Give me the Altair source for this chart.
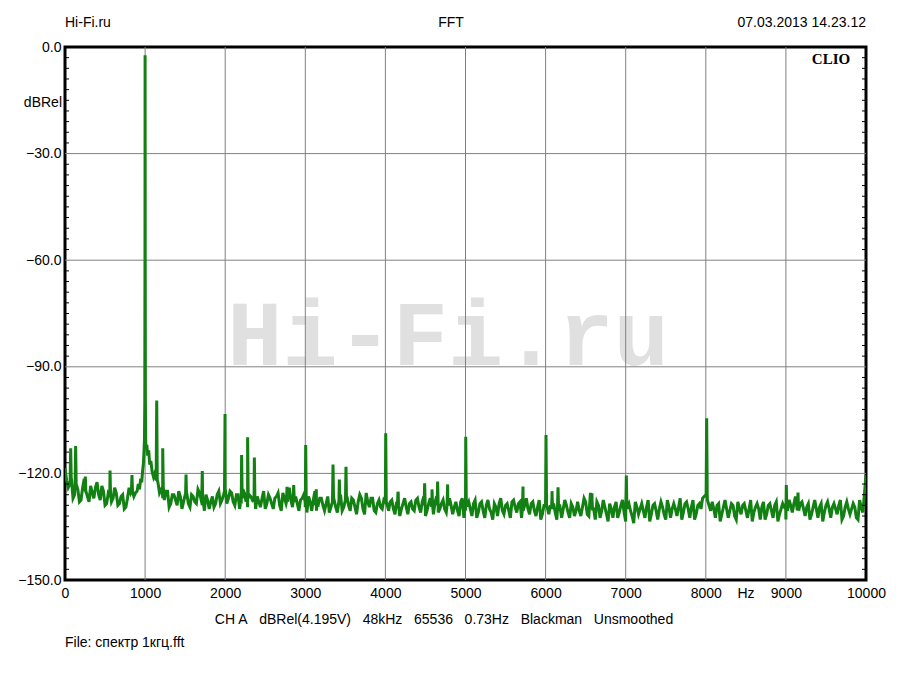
import altair as alt
import pandas as pd

# ---------------- data ----------------
# noise floor sampled every 40 Hz (0, 40, 80 ... 10000)
noise_start = 0
noise_step = 40
noise_db = [
    -118.5, -124.0, -121.5, -126.0, -124.5, -127.5, -121.5, -126.5, -123.5, -127.0,
    -122.5, -127.5, -125.0, -128.5, -125.0, -127.0, -125.5, -128.5, -126.0, -129.5,
    -124.0, -123.0, -125.5, -124.0, -121.0, -118.0, -116.0, -119.0, -122.0, -124.0,
    -124.5, -127.5, -125.0, -128.5, -126.0, -129.0, -126.5, -128.0, -125.5, -129.5,
    -126.5, -128.5, -125.5, -129.0, -126.0, -130.0, -126.5, -128.5, -125.0, -127.5,
    -124.5, -127.0, -125.5, -129.0, -126.0, -128.5, -125.5, -129.5, -126.5, -128.0,
    -126.5, -129.5, -125.0, -128.5, -127.0, -130.0, -126.5, -129.0, -125.5, -128.5,
    -124.0, -129.5, -126.5, -130.5, -127.0, -129.5, -126.5, -130.5, -125.0, -129.0,
    -127.0, -130.5, -126.5, -129.5, -127.5, -131.0, -126.0, -129.5, -126.5, -130.5,
    -127.5, -131.5, -126.0, -130.0, -125.5, -129.5, -127.0, -131.0, -127.5, -130.0,
    -126.0, -130.5, -127.5, -131.5, -125.5, -130.0, -127.0, -131.5, -128.0, -130.5,
    -127.0, -131.0, -126.5, -130.5, -127.0, -131.5, -126.5, -130.0, -127.5, -131.0,
    -127.0, -131.5, -128.0, -132.0, -127.0, -130.5, -128.0, -132.0, -127.5, -131.0,
    -128.0, -132.5, -127.5, -131.0, -128.5, -132.0, -127.0, -131.5, -128.5, -132.5,
    -127.5, -131.0, -128.0, -130.5, -127.0, -131.5, -128.0, -132.0, -127.5, -131.5,
    -127.0, -131.5, -126.5, -131.0, -128.0, -132.5, -127.5, -131.0, -128.5, -132.0,
    -128.0, -132.0, -127.0, -131.5, -125.5, -130.0, -128.0, -132.5, -127.5, -131.5,
    -128.5, -132.5, -128.0, -131.0, -127.5, -133.5, -128.5, -132.0, -128.0, -131.5,
    -128.5, -132.5, -127.5, -131.5, -128.5, -133.0, -128.0, -131.5, -127.5, -132.5,
    -128.5, -132.0, -127.0, -131.0, -128.0, -132.5, -127.5, -131.5, -128.5, -127.0,
    -126.0, -129.0, -128.0, -132.5, -128.5, -131.5, -127.5, -132.5, -128.5, -132.0,
    -128.0, -131.5, -128.5, -132.5, -127.5, -131.0, -128.5, -133.0, -128.0, -131.5,
    -128.5, -132.5, -128.0, -131.5, -128.5, -133.0, -127.5, -131.0, -126.5, -130.5,
    -128.0, -132.0, -128.5, -131.5, -127.5, -132.5, -128.5, -131.0, -128.0, -132.5,
    -128.5, -131.5, -127.5, -132.0, -128.0, -131.5, -128.5, -132.5, -127.5, -131.0,
    -120.5,
]
# noise floor in between, at 20, 60, 100 ... 9980 Hz
mid_start = 20
mid_db = [
    -122.0, -123.0, -127.0, -123.5, -128.0, -124.0, -125.0, -128.0, -125.5, -124.0,
    -126.0, -123.5, -129.0, -125.5, -128.0, -124.0, -129.0, -126.5, -130.0, -127.0,
    -125.5, -126.5, -124.0, -123.0, -120.0, -117.0, -118.0, -120.0, -123.0, -125.0,
    -127.0, -125.0, -129.5, -126.0, -127.5, -125.0, -130.0, -126.0, -128.5, -126.0,
    -128.0, -124.5, -127.5, -130.5, -127.5, -128.0, -129.5, -126.0, -128.5, -126.0,
    -128.5, -125.0, -128.0, -126.0, -130.0, -124.5, -128.0, -126.0, -127.5, -130.0,
    -128.0, -127.0, -130.0, -126.0, -128.5, -127.0, -125.5, -130.5, -127.0, -126.5,
    -127.5, -126.0, -128.5, -127.5, -126.0, -131.0, -128.0, -127.5, -130.5, -127.0,
    -129.0, -128.5, -131.0, -127.0, -129.5, -128.0, -130.5, -127.5, -129.0, -127.0,
    -129.5, -128.0, -127.0, -131.5, -128.0, -127.0, -130.5, -128.5, -129.5, -127.5,
    -128.5, -128.0, -130.0, -128.0, -132.0, -128.5, -129.5, -128.5, -130.0, -127.5,
    -129.5, -128.0, -132.0, -128.5, -129.0, -128.0, -131.0, -128.5, -130.0, -128.0,
    -129.0, -129.5, -130.5, -128.0, -132.5, -129.0, -130.0, -128.5, -132.5, -128.5,
    -130.5, -129.0, -130.0, -133.0, -129.5, -128.5, -130.5, -129.0, -130.5, -128.0,
    -129.5, -128.5, -132.5, -129.0, -130.0, -128.5, -130.5, -129.5, -133.0, -129.0,
    -129.5, -129.0, -128.5, -133.0, -129.5, -130.0, -129.0, -132.5, -129.5, -130.5,
    -130.5, -129.5, -128.0, -132.0, -127.5, -133.0, -129.0, -130.5, -129.5, -133.5,
    -130.0, -129.5, -132.5, -129.0, -131.0, -129.5, -130.5, -134.0, -129.5, -130.0,
    -130.5, -129.5, -133.5, -129.0, -130.5, -130.0, -129.5, -133.0, -129.5, -130.0,
    -130.0, -129.5, -133.0, -128.5, -130.0, -129.5, -133.0, -129.0, -130.0, -126.5,
    -127.5, -130.5, -130.0, -129.0, -133.5, -129.5, -130.0, -130.5, -129.0, -133.0,
    -130.0, -129.0, -130.5, -130.0, -133.5, -129.5, -130.0, -129.5, -133.0, -129.0,
    -130.5, -129.0, -133.5, -130.0, -129.5, -130.5, -129.0, -128.5, -130.0, -128.5,
    -130.0, -129.5, -133.0, -129.5, -130.0, -129.5, -133.5, -129.0, -130.0, -129.5,
    -130.0, -129.0, -133.0, -129.5, -130.0, -130.0, -129.5, -133.0, -129.5, -126.0,
]

# harmonic / spurious spikes: frequency, top level, level at the spike's foot
peak_freq = [71, 133, 254, 562, 836, 1145, 1220, 1511, 1714, 1998, 2205, 2280, 2364,
             2772, 2855, 3005, 3137, 3346, 3425, 3508, 4004, 4157, 4490, 4582, 4652,
             4777, 5003, 5718, 6005, 6080, 6155, 6579, 7008, 8011, 9005, 9151]
peak_db = [-112.9, -112.3, -120.9, -119.2, -120.5, -99.5, -112.9, -120.3, -119.3, -103.3,
           -114.8, -109.8, -115.5, -123.8, -123.3, -112.0, -124.5, -117.5, -121.7, -118.1,
           -108.7, -125.2, -122.8, -124.5, -122.3, -123.1, -109.7, -123.7, -109.2, -125.0,
           -123.9, -125.6, -120.6, -104.5, -123.3, -125.4]
peak_base = [-122, -123, -125, -126, -125, -122, -124, -127, -127, -125,
             -127, -127, -127, -128, -128, -128, -129, -128, -128, -128,
             -128, -129, -129, -129, -129, -129, -129, -130, -129, -130,
             -130, -130, -130, -126, -130, -130]

# 1 kHz fundamental and its skirt
fund_freq = [900, 915, 930, 945, 958, 968, 978, 986, 992, 996, 998.5, 999.5, 1000,
             1000.5, 1001.5, 1004, 1008, 1014, 1022, 1032, 1045, 1058, 1072, 1088,
             1105, 1120, 1160, 1180]
fund_db = [-125.0, -123.0, -124.5, -121.5, -122.5, -119.5, -117.5, -114.0, -110.5, -100.0,
           -60.0, -20.0, -2.3, -20.0, -60.0, -100.0, -111.5, -113.0, -112.0, -115.0,
           -113.5, -117.5, -116.5, -119.5, -121.0, -120.0, -122.5, -125.5]

x_ticks = [0, 1000, 2000, 3000, 4000, 5000, 6000, 7000, 8000, 9000, 10000]
y_ticks = [0, -30, -60, -90, -120, -150]
minor_y = [-3 * i for i in range(1, 50) if (3 * i) % 30 != 0]

# ---------------- build table ----------------
rows = []
for i, v in enumerate(noise_db):
    rows.append((noise_start + i * noise_step, v))
for i, v in enumerate(mid_db):
    rows.append((mid_start + i * noise_step, v))
rows = [r for r in rows if not (895 < r[0] < 1195)]
for f, d, b in zip(peak_freq, peak_db, peak_base):
    rows += [(f - 7, b), (f, d), (f + 7, b)]
rows += list(zip(fund_freq, fund_db))
rows.sort()
df = pd.DataFrame(rows, columns=["f", "db"])

W, H = 801, 533
FONT = "Liberation Sans"
FS = 14
xs = alt.Scale(domain=[0, 10000], nice=False, zero=False)
ys = alt.Scale(domain=[-150, 0], nice=False, zero=False)
x_axis = alt.Axis(values=x_ticks, ticks=False, domain=False, grid=False, title=None,
                  labelFont=FONT, labelFontSize=FS, labelColor="black", labelPadding=6,
                  labelFlush=False, labelOverlap=False, format="d")
y_axis = alt.Axis(values=y_ticks, ticks=False, domain=False, grid=False, title=None,
                  labelFont=FONT, labelFontSize=FS, labelColor="black", labelPadding=4,
                  labelFlush=False, labelOverlap=False, format=".1f")


def one():
    return pd.DataFrame({"k": [0]})


def label(text, x, y, align="center", font=FONT, size=FS, weight="normal", color="black"):
    return alt.Chart(one()).mark_text(
        align=align, baseline="middle", font=font, fontSize=size, fontWeight=weight,
        color=color
    ).encode(text=alt.value(text), x=alt.value(x), y=alt.value(y))


watermark = label("Hi-Fi.ru", 383, 290, font="Liberation Mono", size=92,
                  weight="bold", color="#e0e0e0")

vgrid = alt.Chart(pd.DataFrame({"f": x_ticks[1:-1]})).mark_rule(
    color="#808080", strokeWidth=1
).encode(x=alt.X("f:Q", scale=xs, axis=x_axis))
hgrid = alt.Chart(pd.DataFrame({"db": y_ticks[1:-1]})).mark_rule(
    color="#808080", strokeWidth=1
).encode(y=alt.Y("db:Q", scale=ys, axis=y_axis))

line = alt.Chart(df).mark_line(color="#128012", strokeWidth=3, clip=True).encode(
    x=alt.X("f:Q", scale=xs, axis=x_axis),
    y=alt.Y("db:Q", scale=ys, axis=y_axis),
)

minor_left = alt.Chart(pd.DataFrame({"db": minor_y})).mark_rule(
    color="black", strokeWidth=1
).encode(y=alt.Y("db:Q", scale=ys, axis=y_axis), x=alt.value(0), x2=alt.value(4))
minor_right = alt.Chart(pd.DataFrame({"db": minor_y})).mark_rule(
    color="black", strokeWidth=1
).encode(y=alt.Y("db:Q", scale=ys, axis=y_axis), x=alt.value(W - 4), x2=alt.value(W))

gap = "\u00a0\u00a0 "
texts = [
    label("Hi-Fi.ru", 0, -24, align="left"),
    label("FFT", 386, -24),
    label("07.03.2013 14.23.12", W, -24, align="right"),
    label("CLIO", 766, 12, font="Liberation Serif", size=15, weight="bold"),
    label("dBRel", -3, 56, align="right"),
    label("Hz", 681, 547),
    label("CH A" + gap + "dBRel(4.195V)" + gap + "48kHz" + gap + "65536" + gap + "0.73Hz"
          + gap + "Blackman" + gap + "Unsmoothed", 379, 573),
    label("File: спектр 1кгц.fft", 0, 596, align="left"),
]

chart = alt.layer(watermark, vgrid, hgrid, line, minor_left, minor_right, *texts).properties(
    width=W, height=H,
    autosize=alt.AutoSizeParams(type="none"),
    padding={"left": 57, "top": 39, "right": 26, "bottom": 87},
    background="white",
).configure_view(stroke="black", strokeWidth=3)

chart.save("out.html", embed_options={"renderer": "svg", "actions": False})
